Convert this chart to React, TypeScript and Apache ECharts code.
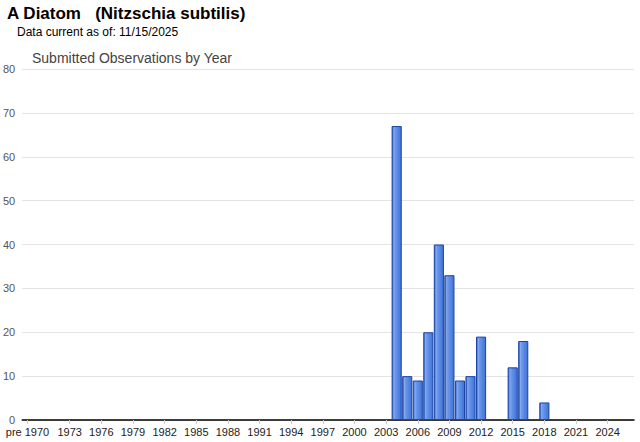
import React, { useEffect, useRef } from "react";
import * as echarts from "echarts";

const titleText = "A Diatom\u00a0\u00a0\u00a0(Nitzschia subtilis)";
const subtitleText = "Data current as of: 11/15/2025";
const chartTitle = "Submitted Observations by Year";

const categories: string[] = [
  "pre 1970",
  "1970", "1971", "1972", "1973", "1974", "1975", "1976", "1977", "1978", "1979",
  "1980", "1981", "1982", "1983", "1984", "1985", "1986", "1987", "1988", "1989",
  "1990", "1991", "1992", "1993", "1994", "1995", "1996", "1997", "1998", "1999",
  "2000", "2001", "2002", "2003", "2004", "2005", "2006", "2007", "2008", "2009",
  "2010", "2011", "2012", "2013", "2014", "2015", "2016", "2017", "2018", "2019",
  "2020", "2021", "2022", "2023", "2024", "2025", "2026",
];

const observations: number[] = [
  0,
  0, 0, 0, 0, 0, 0, 0, 0, 0, 0,
  0, 0, 0, 0, 0, 0, 0, 0, 0, 0,
  0, 0, 0, 0, 0, 0, 0, 0, 0, 0,
  0, 0, 0, 0, 67, 10, 9, 20, 40, 33,
  9, 10, 19, 0, 0, 12, 18, 0, 4, 0,
  0, 0, 0, 0, 0, 0, 0,
];

const yTicks = { min: 0, max: 80, interval: 10 };

const showLabel = (index: number) => index === 0 || (index >= 4 && (index - 1) % 3 === 0);

export default function App() {
  const ref = useRef<HTMLDivElement>(null);
  useEffect(() => {
    if (!ref.current) return;
    const chart = echarts.init(ref.current, undefined, { renderer: "svg" });
    const font = "Arial, 'Liberation Sans', sans-serif";
    chart.setOption({
      animation: false,
      backgroundColor: "#ffffff",
      title: [
        {
          text: titleText,
          left: 7,
          top: 5,
          padding: 0,
          textStyle: { fontFamily: font, fontSize: 17, fontWeight: "bold", color: "#000" },
        },
        {
          text: subtitleText,
          left: 17,
          top: 26,
          padding: 0,
          textStyle: { fontFamily: font, fontSize: 12, fontWeight: "normal", color: "#000" },
        },
        {
          text: chartTitle,
          left: 32,
          top: 51,
          padding: 0,
          textStyle: { fontFamily: font, fontSize: 14, fontWeight: "normal", color: "#444" },
        },
      ],
      grid: { left: 22, right: 6, top: 69, bottom: 22, containLabel: false },
      xAxis: {
        type: "category",
        data: categories,
        axisLine: { show: true, lineStyle: { color: "#000", width: 1.5 } },
        axisTick: {
          show: true,
          alignWithLabel: true,
          interval: (i: number) => showLabel(i),
          length: 4,
          lineStyle: { color: "#ccc" },
        },
        axisLabel: {
          interval: (i: number) => showLabel(i),
          fontFamily: font,
          fontSize: 11,
          color: "#222",
          margin: 6,
        },
        splitLine: { show: false },
      },
      yAxis: {
        type: "value",
        min: yTicks.min,
        max: yTicks.max,
        interval: yTicks.interval,
        axisLine: { show: false },
        axisTick: { show: false },
        axisLabel: { fontFamily: font, fontSize: 11, color: "#555", margin: 7 },
        splitLine: { lineStyle: { color: "#e3e3e3", width: 1 } },
      },
      series: [
        {
          type: "bar",
          data: observations.map((v) => (v === 0 ? null : v)),
          barCategoryGap: "4%",
          itemStyle: {
            color: new echarts.graphic.LinearGradient(0, 0, 1, 0, [
              { offset: 0, color: "#2b5cc9" },
              { offset: 0.2, color: "#86aaee" },
              { offset: 0.32, color: "#6b98ea" },
              { offset: 1, color: "#3f72d8" },
            ]),
            borderColor: "#1b45a3",
            borderWidth: 1,
          },
        },
      ],
    });
    return () => chart.dispose();
  }, []);
  return <div ref={ref} style={{ width: 640, height: 442, position: "absolute", left: 0, top: 0 }} />;
}
